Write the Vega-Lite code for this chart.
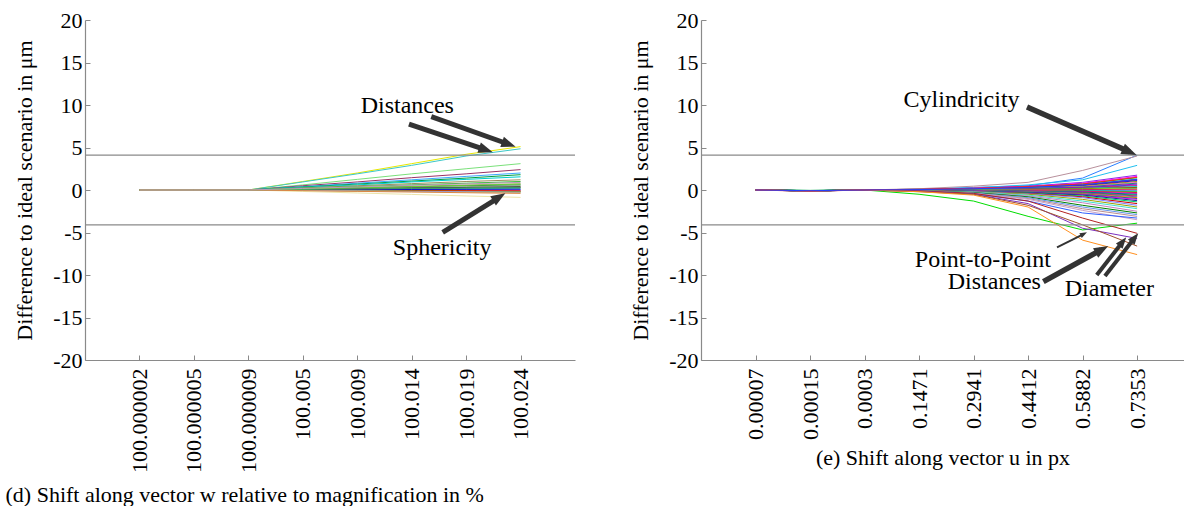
{
"$schema": "https://vega.github.io/schema/vega-lite/v6.json",
"background": "white",
"padding": {"left": 5, "top": 9, "right": 0, "bottom": 0},
"bounds": "flush",
"spacing": 126,
"config": {
  "font": "Liberation Serif, serif",
  "view": {"stroke": null},
  "style": {"guide-label": {"font": "Liberation Serif, serif"}, "guide-title": {"font": "Liberation Serif, serif"}},
  "axis": {"domainColor": "#8a8a8a", "tickColor": "#8a8a8a", "tickSize": -5, "labelFontSize": 22, "titleFontSize": 22, "labelColor": "#000000", "titleColor": "#000000", "titleFontWeight": "normal", "grid": false, "labelFont": "Liberation Serif, serif", "titleFont": "Liberation Serif, serif", "domainWidth": 1.2},
  "axisY": {"labelPadding": 8, "titlePadding": 16},
  "axisX": {"labelPadding": 13, "titlePadding": 8}
},
"resolve": {"scale": {"color": "independent", "x": "independent", "y": "independent"}},
"datasets": {
"d": [
{"s":"a01","i":1,"v":0},{"s":"a01","i":2,"v":0},{"s":"a01","i":3,"v":0},{"s":"a01","i":4,"v":1.0},{"s":"a01","i":5,"v":2.0},{"s":"a01","i":6,"v":3.1},{"s":"a01","i":7,"v":4.2},{"s":"a01","i":8,"v":5.1},
{"s":"a02","i":1,"v":0},{"s":"a02","i":2,"v":0},{"s":"a02","i":3,"v":0},{"s":"a02","i":4,"v":0.95},{"s":"a02","i":5,"v":1.9},{"s":"a02","i":6,"v":2.9},{"s":"a02","i":7,"v":4.0},{"s":"a02","i":8,"v":4.85},
{"s":"a03","i":1,"v":0},{"s":"a03","i":2,"v":0},{"s":"a03","i":3,"v":0},{"s":"a03","i":4,"v":0.6},{"s":"a03","i":5,"v":1.25},{"s":"a03","i":6,"v":1.9},{"s":"a03","i":7,"v":2.5},{"s":"a03","i":8,"v":3.1},
{"s":"a04","i":1,"v":0},{"s":"a04","i":2,"v":0},{"s":"a04","i":3,"v":0},{"s":"a04","i":4,"v":0.5},{"s":"a04","i":5,"v":0.95},{"s":"a04","i":6,"v":1.45},{"s":"a04","i":7,"v":1.9},{"s":"a04","i":8,"v":2.4},
{"s":"a05","i":1,"v":0},{"s":"a05","i":2,"v":0},{"s":"a05","i":3,"v":0},{"s":"a05","i":4,"v":0.4},{"s":"a05","i":5,"v":0.8},{"s":"a05","i":6,"v":1.2},{"s":"a05","i":7,"v":1.6},{"s":"a05","i":8,"v":2.0},
{"s":"a06","i":1,"v":0},{"s":"a06","i":2,"v":0},{"s":"a06","i":3,"v":0},{"s":"a06","i":4,"v":0.35},{"s":"a06","i":5,"v":0.7},{"s":"a06","i":6,"v":1.05},{"s":"a06","i":7,"v":1.4},{"s":"a06","i":8,"v":1.8},
{"s":"a07","i":1,"v":0},{"s":"a07","i":2,"v":0},{"s":"a07","i":3,"v":0},{"s":"a07","i":4,"v":0.3},{"s":"a07","i":5,"v":0.6},{"s":"a07","i":6,"v":0.95},{"s":"a07","i":7,"v":1.25},{"s":"a07","i":8,"v":1.55},
{"s":"a08","i":1,"v":0},{"s":"a08","i":2,"v":0},{"s":"a08","i":3,"v":0},{"s":"a08","i":4,"v":0.25},{"s":"a08","i":5,"v":0.5},{"s":"a08","i":6,"v":0.75},{"s":"a08","i":7,"v":1.0},{"s":"a08","i":8,"v":1.2},
{"s":"a09","i":1,"v":0},{"s":"a09","i":2,"v":0},{"s":"a09","i":3,"v":0},{"s":"a09","i":4,"v":0.2},{"s":"a09","i":5,"v":0.4},{"s":"a09","i":6,"v":0.6},{"s":"a09","i":7,"v":0.8},{"s":"a09","i":8,"v":1.0},
{"s":"a10","i":1,"v":0},{"s":"a10","i":2,"v":0},{"s":"a10","i":3,"v":0},{"s":"a10","i":4,"v":0.15},{"s":"a10","i":5,"v":0.3},{"s":"a10","i":6,"v":0.45},{"s":"a10","i":7,"v":0.6},{"s":"a10","i":8,"v":0.75},
{"s":"a11","i":1,"v":0},{"s":"a11","i":2,"v":0},{"s":"a11","i":3,"v":0},{"s":"a11","i":4,"v":0.12},{"s":"a11","i":5,"v":0.25},{"s":"a11","i":6,"v":0.37},{"s":"a11","i":7,"v":0.5},{"s":"a11","i":8,"v":0.6},
{"s":"a12","i":1,"v":0},{"s":"a12","i":2,"v":0},{"s":"a12","i":3,"v":0},{"s":"a12","i":4,"v":0.1},{"s":"a12","i":5,"v":0.2},{"s":"a12","i":6,"v":0.3},{"s":"a12","i":7,"v":0.4},{"s":"a12","i":8,"v":0.5},
{"s":"a13","i":1,"v":0},{"s":"a13","i":2,"v":0},{"s":"a13","i":3,"v":0},{"s":"a13","i":4,"v":0.08},{"s":"a13","i":5,"v":0.15},{"s":"a13","i":6,"v":0.25},{"s":"a13","i":7,"v":0.3},{"s":"a13","i":8,"v":0.4},
{"s":"a14","i":1,"v":0},{"s":"a14","i":2,"v":0},{"s":"a14","i":3,"v":0},{"s":"a14","i":4,"v":0.05},{"s":"a14","i":5,"v":0.1},{"s":"a14","i":6,"v":0.15},{"s":"a14","i":7,"v":0.2},{"s":"a14","i":8,"v":0.3},
{"s":"a15","i":1,"v":0},{"s":"a15","i":2,"v":0},{"s":"a15","i":3,"v":0},{"s":"a15","i":4,"v":0.04},{"s":"a15","i":5,"v":0.08},{"s":"a15","i":6,"v":0.12},{"s":"a15","i":7,"v":0.16},{"s":"a15","i":8,"v":0.2},
{"s":"a16","i":1,"v":0},{"s":"a16","i":2,"v":0},{"s":"a16","i":3,"v":0},{"s":"a16","i":4,"v":0.02},{"s":"a16","i":5,"v":0.04},{"s":"a16","i":6,"v":0.06},{"s":"a16","i":7,"v":0.08},{"s":"a16","i":8,"v":0.1},
{"s":"a17","i":1,"v":0},{"s":"a17","i":2,"v":0},{"s":"a17","i":3,"v":0},{"s":"a17","i":4,"v":0},{"s":"a17","i":5,"v":0},{"s":"a17","i":6,"v":0},{"s":"a17","i":7,"v":0},{"s":"a17","i":8,"v":0},
{"s":"a18","i":1,"v":0},{"s":"a18","i":2,"v":0},{"s":"a18","i":3,"v":0},{"s":"a18","i":4,"v":-0.02},{"s":"a18","i":5,"v":-0.04},{"s":"a18","i":6,"v":-0.06},{"s":"a18","i":7,"v":-0.08},{"s":"a18","i":8,"v":-0.1},
{"s":"a19","i":1,"v":0},{"s":"a19","i":2,"v":0},{"s":"a19","i":3,"v":0},{"s":"a19","i":4,"v":-0.03},{"s":"a19","i":5,"v":-0.06},{"s":"a19","i":6,"v":-0.09},{"s":"a19","i":7,"v":-0.12},{"s":"a19","i":8,"v":-0.15},
{"s":"a20","i":1,"v":0},{"s":"a20","i":2,"v":0},{"s":"a20","i":3,"v":0},{"s":"a20","i":4,"v":-0.04},{"s":"a20","i":5,"v":-0.08},{"s":"a20","i":6,"v":-0.12},{"s":"a20","i":7,"v":-0.16},{"s":"a20","i":8,"v":-0.2},
{"s":"a21","i":1,"v":0},{"s":"a21","i":2,"v":0},{"s":"a21","i":3,"v":0},{"s":"a21","i":4,"v":-0.06},{"s":"a21","i":5,"v":-0.12},{"s":"a21","i":6,"v":-0.18},{"s":"a21","i":7,"v":-0.24},{"s":"a21","i":8,"v":-0.3},
{"s":"a22","i":1,"v":0},{"s":"a22","i":2,"v":0},{"s":"a22","i":3,"v":0},{"s":"a22","i":4,"v":-0.17},{"s":"a22","i":5,"v":-0.35},{"s":"a22","i":6,"v":-0.52},{"s":"a22","i":7,"v":-0.7},{"s":"a22","i":8,"v":-0.87},
{"s":"a23","i":1,"v":0},{"s":"a23","i":2,"v":0},{"s":"a23","i":3,"v":0},{"s":"a23","i":4,"v":-0.05},{"s":"a23","i":5,"v":-0.1},{"s":"a23","i":6,"v":-0.15},{"s":"a23","i":7,"v":-0.2},{"s":"a23","i":8,"v":-0.25},
{"s":"a24","i":1,"v":0},{"s":"a24","i":2,"v":0},{"s":"a24","i":3,"v":0},{"s":"a24","i":4,"v":0.06},{"s":"a24","i":5,"v":0.12},{"s":"a24","i":6,"v":0.18},{"s":"a24","i":7,"v":0.24},{"s":"a24","i":8,"v":0.3},
{"s":"a25","i":1,"v":0},{"s":"a25","i":2,"v":0},{"s":"a25","i":3,"v":0},{"s":"a25","i":4,"v":0.13},{"s":"a25","i":5,"v":0.27},{"s":"a25","i":6,"v":0.4},{"s":"a25","i":7,"v":0.55},{"s":"a25","i":8,"v":0.7},
{"s":"a26","i":1,"v":0},{"s":"a26","i":2,"v":0},{"s":"a26","i":3,"v":0},{"s":"a26","i":4,"v":-0.08},{"s":"a26","i":5,"v":-0.16},{"s":"a26","i":6,"v":-0.24},{"s":"a26","i":7,"v":-0.32},{"s":"a26","i":8,"v":-0.4},
{"s":"a27","i":1,"v":0},{"s":"a27","i":2,"v":0},{"s":"a27","i":3,"v":0},{"s":"a27","i":4,"v":0.18},{"s":"a27","i":5,"v":0.36},{"s":"a27","i":6,"v":0.55},{"s":"a27","i":7,"v":0.72},{"s":"a27","i":8,"v":0.9}
],
"e": [
{"s":"b01","i":1,"v":0},{"s":"b01","i":2,"v":-0.08},{"s":"b01","i":3,"v":0},{"s":"b01","i":4,"v":0.1},{"s":"b01","i":5,"v":0.3},{"s":"b01","i":6,"v":0.5},{"s":"b01","i":7,"v":1.4},{"s":"b01","i":8,"v":4.1},
{"s":"b02","i":1,"v":0},{"s":"b02","i":2,"v":-0.1},{"s":"b02","i":3,"v":0},{"s":"b02","i":4,"v":0.15},{"s":"b02","i":5,"v":0.45},{"s":"b02","i":6,"v":0.9},{"s":"b02","i":7,"v":2.3},{"s":"b02","i":8,"v":4.0},
{"s":"b03","i":1,"v":0},{"s":"b03","i":2,"v":-0.06},{"s":"b03","i":3,"v":0},{"s":"b03","i":4,"v":0.1},{"s":"b03","i":5,"v":0.25},{"s":"b03","i":6,"v":0.6},{"s":"b03","i":7,"v":1.2},{"s":"b03","i":8,"v":2.9},
{"s":"b04","i":1,"v":0},{"s":"b04","i":2,"v":-0.1},{"s":"b04","i":3,"v":0},{"s":"b04","i":4,"v":0.05},{"s":"b04","i":5,"v":0.2},{"s":"b04","i":6,"v":0.45},{"s":"b04","i":7,"v":0.9},{"s":"b04","i":8,"v":1.75},
{"s":"b05","i":1,"v":0},{"s":"b05","i":2,"v":-0.12},{"s":"b05","i":3,"v":0},{"s":"b05","i":4,"v":0.05},{"s":"b05","i":5,"v":0.2},{"s":"b05","i":6,"v":0.4},{"s":"b05","i":7,"v":0.8},{"s":"b05","i":8,"v":1.6},
{"s":"b06","i":1,"v":0},{"s":"b06","i":2,"v":-0.08},{"s":"b06","i":3,"v":0},{"s":"b06","i":4,"v":0.05},{"s":"b06","i":5,"v":0.15},{"s":"b06","i":6,"v":0.35},{"s":"b06","i":7,"v":0.7},{"s":"b06","i":8,"v":1.45},
{"s":"b07","i":1,"v":0},{"s":"b07","i":2,"v":-0.05},{"s":"b07","i":3,"v":0},{"s":"b07","i":4,"v":0},{"s":"b07","i":5,"v":0.1},{"s":"b07","i":6,"v":0.3},{"s":"b07","i":7,"v":0.6},{"s":"b07","i":8,"v":1.3},
{"s":"b08","i":1,"v":0},{"s":"b08","i":2,"v":-0.15},{"s":"b08","i":3,"v":0},{"s":"b08","i":4,"v":0.05},{"s":"b08","i":5,"v":0.1},{"s":"b08","i":6,"v":0.25},{"s":"b08","i":7,"v":0.55},{"s":"b08","i":8,"v":1.2},
{"s":"b09","i":1,"v":0},{"s":"b09","i":2,"v":-0.08},{"s":"b09","i":3,"v":0},{"s":"b09","i":4,"v":0},{"s":"b09","i":5,"v":0.1},{"s":"b09","i":6,"v":0.25},{"s":"b09","i":7,"v":0.5},{"s":"b09","i":8,"v":1.1},
{"s":"b10","i":1,"v":0},{"s":"b10","i":2,"v":-0.1},{"s":"b10","i":3,"v":0},{"s":"b10","i":4,"v":0.05},{"s":"b10","i":5,"v":0.1},{"s":"b10","i":6,"v":0.2},{"s":"b10","i":7,"v":0.45},{"s":"b10","i":8,"v":1.0},
{"s":"b11","i":1,"v":0},{"s":"b11","i":2,"v":-0.06},{"s":"b11","i":3,"v":0},{"s":"b11","i":4,"v":0},{"s":"b11","i":5,"v":0.1},{"s":"b11","i":6,"v":0.2},{"s":"b11","i":7,"v":0.4},{"s":"b11","i":8,"v":0.9},
{"s":"b12","i":1,"v":0},{"s":"b12","i":2,"v":-0.1},{"s":"b12","i":3,"v":0},{"s":"b12","i":4,"v":0},{"s":"b12","i":5,"v":0.05},{"s":"b12","i":6,"v":0.2},{"s":"b12","i":7,"v":0.35},{"s":"b12","i":8,"v":0.8},
{"s":"b13","i":1,"v":0},{"s":"b13","i":2,"v":-0.12},{"s":"b13","i":3,"v":0},{"s":"b13","i":4,"v":0},{"s":"b13","i":5,"v":0.05},{"s":"b13","i":6,"v":0.15},{"s":"b13","i":7,"v":0.3},{"s":"b13","i":8,"v":0.7},
{"s":"b14","i":1,"v":0},{"s":"b14","i":2,"v":-0.08},{"s":"b14","i":3,"v":0},{"s":"b14","i":4,"v":0},{"s":"b14","i":5,"v":0.05},{"s":"b14","i":6,"v":0.15},{"s":"b14","i":7,"v":0.3},{"s":"b14","i":8,"v":0.6},
{"s":"b15","i":1,"v":0},{"s":"b15","i":2,"v":-0.1},{"s":"b15","i":3,"v":0},{"s":"b15","i":4,"v":0},{"s":"b15","i":5,"v":0.05},{"s":"b15","i":6,"v":0.1},{"s":"b15","i":7,"v":0.25},{"s":"b15","i":8,"v":0.5},
{"s":"b16","i":1,"v":0},{"s":"b16","i":2,"v":-0.07},{"s":"b16","i":3,"v":0},{"s":"b16","i":4,"v":0},{"s":"b16","i":5,"v":0.05},{"s":"b16","i":6,"v":0.1},{"s":"b16","i":7,"v":0.2},{"s":"b16","i":8,"v":0.4},
{"s":"b17","i":1,"v":0},{"s":"b17","i":2,"v":-0.1},{"s":"b17","i":3,"v":0},{"s":"b17","i":4,"v":0},{"s":"b17","i":5,"v":0},{"s":"b17","i":6,"v":0.1},{"s":"b17","i":7,"v":0.15},{"s":"b17","i":8,"v":0.3},
{"s":"b18","i":1,"v":0},{"s":"b18","i":2,"v":-0.12},{"s":"b18","i":3,"v":0},{"s":"b18","i":4,"v":0},{"s":"b18","i":5,"v":0},{"s":"b18","i":6,"v":0.05},{"s":"b18","i":7,"v":0.1},{"s":"b18","i":8,"v":0.2},
{"s":"b19","i":1,"v":0},{"s":"b19","i":2,"v":-0.08},{"s":"b19","i":3,"v":0},{"s":"b19","i":4,"v":0},{"s":"b19","i":5,"v":0},{"s":"b19","i":6,"v":0},{"s":"b19","i":7,"v":0.05},{"s":"b19","i":8,"v":0.1},
{"s":"b20","i":1,"v":0},{"s":"b20","i":2,"v":-0.1},{"s":"b20","i":3,"v":0},{"s":"b20","i":4,"v":0},{"s":"b20","i":5,"v":0},{"s":"b20","i":6,"v":0},{"s":"b20","i":7,"v":0},{"s":"b20","i":8,"v":0},
{"s":"b21","i":1,"v":0},{"s":"b21","i":2,"v":-0.09},{"s":"b21","i":3,"v":0},{"s":"b21","i":4,"v":0},{"s":"b21","i":5,"v":0},{"s":"b21","i":6,"v":-0.05},{"s":"b21","i":7,"v":-0.05},{"s":"b21","i":8,"v":-0.1},
{"s":"b22","i":1,"v":0},{"s":"b22","i":2,"v":-0.11},{"s":"b22","i":3,"v":0},{"s":"b22","i":4,"v":0},{"s":"b22","i":5,"v":0},{"s":"b22","i":6,"v":-0.05},{"s":"b22","i":7,"v":-0.1},{"s":"b22","i":8,"v":-0.2},
{"s":"b23","i":1,"v":0},{"s":"b23","i":2,"v":-0.08},{"s":"b23","i":3,"v":0},{"s":"b23","i":4,"v":0},{"s":"b23","i":5,"v":-0.05},{"s":"b23","i":6,"v":-0.1},{"s":"b23","i":7,"v":-0.15},{"s":"b23","i":8,"v":-0.3},
{"s":"b24","i":1,"v":0},{"s":"b24","i":2,"v":-0.1},{"s":"b24","i":3,"v":0},{"s":"b24","i":4,"v":0},{"s":"b24","i":5,"v":-0.05},{"s":"b24","i":6,"v":-0.1},{"s":"b24","i":7,"v":-0.2},{"s":"b24","i":8,"v":-0.4},
{"s":"b25","i":1,"v":0},{"s":"b25","i":2,"v":-0.12},{"s":"b25","i":3,"v":0},{"s":"b25","i":4,"v":0},{"s":"b25","i":5,"v":-0.05},{"s":"b25","i":6,"v":-0.15},{"s":"b25","i":7,"v":-0.25},{"s":"b25","i":8,"v":-0.5},
{"s":"b26","i":1,"v":0},{"s":"b26","i":2,"v":-0.07},{"s":"b26","i":3,"v":0},{"s":"b26","i":4,"v":0},{"s":"b26","i":5,"v":-0.05},{"s":"b26","i":6,"v":-0.15},{"s":"b26","i":7,"v":-0.3},{"s":"b26","i":8,"v":-0.6},
{"s":"b27","i":1,"v":0},{"s":"b27","i":2,"v":-0.1},{"s":"b27","i":3,"v":0},{"s":"b27","i":4,"v":0},{"s":"b27","i":5,"v":-0.05},{"s":"b27","i":6,"v":-0.2},{"s":"b27","i":7,"v":-0.35},{"s":"b27","i":8,"v":-0.7},
{"s":"b28","i":1,"v":0},{"s":"b28","i":2,"v":-0.09},{"s":"b28","i":3,"v":0},{"s":"b28","i":4,"v":-0.05},{"s":"b28","i":5,"v":-0.1},{"s":"b28","i":6,"v":-0.2},{"s":"b28","i":7,"v":-0.4},{"s":"b28","i":8,"v":-0.8},
{"s":"b29","i":1,"v":0},{"s":"b29","i":2,"v":-0.11},{"s":"b29","i":3,"v":0},{"s":"b29","i":4,"v":-0.05},{"s":"b29","i":5,"v":-0.1},{"s":"b29","i":6,"v":-0.25},{"s":"b29","i":7,"v":-0.45},{"s":"b29","i":8,"v":-0.9},
{"s":"b30","i":1,"v":0},{"s":"b30","i":2,"v":-0.08},{"s":"b30","i":3,"v":0},{"s":"b30","i":4,"v":-0.05},{"s":"b30","i":5,"v":-0.1},{"s":"b30","i":6,"v":-0.25},{"s":"b30","i":7,"v":-0.5},{"s":"b30","i":8,"v":-1.0},
{"s":"b31","i":1,"v":0},{"s":"b31","i":2,"v":-0.1},{"s":"b31","i":3,"v":0},{"s":"b31","i":4,"v":-0.05},{"s":"b31","i":5,"v":-0.1},{"s":"b31","i":6,"v":-0.3},{"s":"b31","i":7,"v":-0.55},{"s":"b31","i":8,"v":-1.1},
{"s":"b32","i":1,"v":0},{"s":"b32","i":2,"v":-0.12},{"s":"b32","i":3,"v":0},{"s":"b32","i":4,"v":-0.05},{"s":"b32","i":5,"v":-0.15},{"s":"b32","i":6,"v":-0.3},{"s":"b32","i":7,"v":-0.6},{"s":"b32","i":8,"v":-1.25},
{"s":"b33","i":1,"v":0},{"s":"b33","i":2,"v":-0.08},{"s":"b33","i":3,"v":0},{"s":"b33","i":4,"v":-0.05},{"s":"b33","i":5,"v":-0.15},{"s":"b33","i":6,"v":-0.35},{"s":"b33","i":7,"v":-0.7},{"s":"b33","i":8,"v":-1.4},
{"s":"b34","i":1,"v":0},{"s":"b34","i":2,"v":-0.1},{"s":"b34","i":3,"v":0},{"s":"b34","i":4,"v":-0.05},{"s":"b34","i":5,"v":-0.2},{"s":"b34","i":6,"v":-0.4},{"s":"b34","i":7,"v":-0.8},{"s":"b34","i":8,"v":-1.6},
{"s":"b35","i":1,"v":0},{"s":"b35","i":2,"v":-0.09},{"s":"b35","i":3,"v":0},{"s":"b35","i":4,"v":-0.1},{"s":"b35","i":5,"v":-0.2},{"s":"b35","i":6,"v":-0.45},{"s":"b35","i":7,"v":-0.9},{"s":"b35","i":8,"v":-1.8},
{"s":"b36","i":1,"v":0},{"s":"b36","i":2,"v":-0.11},{"s":"b36","i":3,"v":0},{"s":"b36","i":4,"v":-0.1},{"s":"b36","i":5,"v":-0.25},{"s":"b36","i":6,"v":-0.5},{"s":"b36","i":7,"v":-1.1},{"s":"b36","i":8,"v":-2.0},
{"s":"b37","i":1,"v":0},{"s":"b37","i":2,"v":-0.1},{"s":"b37","i":3,"v":0},{"s":"b37","i":4,"v":-0.1},{"s":"b37","i":5,"v":-0.25},{"s":"b37","i":6,"v":-0.6},{"s":"b37","i":7,"v":-1.3},{"s":"b37","i":8,"v":-2.2},
{"s":"b38","i":1,"v":0},{"s":"b38","i":2,"v":-0.08},{"s":"b38","i":3,"v":0},{"s":"b38","i":4,"v":-0.1},{"s":"b38","i":5,"v":-0.3},{"s":"b38","i":6,"v":-0.7},{"s":"b38","i":7,"v":-1.5},{"s":"b38","i":8,"v":-2.5},
{"s":"b39","i":1,"v":0},{"s":"b39","i":2,"v":-0.1},{"s":"b39","i":3,"v":0},{"s":"b39","i":4,"v":-0.1},{"s":"b39","i":5,"v":-0.3},{"s":"b39","i":6,"v":-0.8},{"s":"b39","i":7,"v":-1.8},{"s":"b39","i":8,"v":-2.7},
{"s":"b40","i":1,"v":0},{"s":"b40","i":2,"v":-0.12},{"s":"b40","i":3,"v":0},{"s":"b40","i":4,"v":-0.1},{"s":"b40","i":5,"v":-0.35},{"s":"b40","i":6,"v":-0.9},{"s":"b40","i":7,"v":-2.0},{"s":"b40","i":8,"v":-2.9},
{"s":"b41","i":1,"v":0},{"s":"b41","i":2,"v":-0.09},{"s":"b41","i":3,"v":0},{"s":"b41","i":4,"v":-0.1},{"s":"b41","i":5,"v":-0.4},{"s":"b41","i":6,"v":-1.0},{"s":"b41","i":7,"v":-2.2},{"s":"b41","i":8,"v":-3.1},
{"s":"b42","i":1,"v":0},{"s":"b42","i":2,"v":-0.1},{"s":"b42","i":3,"v":0},{"s":"b42","i":4,"v":-0.15},{"s":"b42","i":5,"v":-0.4},{"s":"b42","i":6,"v":-1.1},{"s":"b42","i":7,"v":-2.4},{"s":"b42","i":8,"v":-3.5},
{"s":"b43","i":1,"v":0},{"s":"b43","i":2,"v":-0.1},{"s":"b43","i":3,"v":0},{"s":"b43","i":4,"v":-0.1},{"s":"b43","i":5,"v":-0.45},{"s":"b43","i":6,"v":-1.3},{"s":"b43","i":7,"v":-2.7},{"s":"b43","i":8,"v":-3.3},
{"s":"b44","i":1,"v":0},{"s":"b44","i":2,"v":-0.05},{"s":"b44","i":3,"v":0},{"s":"b44","i":4,"v":-0.5},{"s":"b44","i":5,"v":-1.3},{"s":"b44","i":6,"v":-3.1},{"s":"b44","i":7,"v":-4.7},{"s":"b44","i":8,"v":-3.9},
{"s":"b45","i":1,"v":0},{"s":"b45","i":2,"v":-0.1},{"s":"b45","i":3,"v":0},{"s":"b45","i":4,"v":-0.1},{"s":"b45","i":5,"v":-0.4},{"s":"b45","i":6,"v":-1.3},{"s":"b45","i":7,"v":-3.3},{"s":"b45","i":8,"v":-5.1},
{"s":"b46","i":1,"v":0},{"s":"b46","i":2,"v":-0.1},{"s":"b46","i":3,"v":0},{"s":"b46","i":4,"v":-0.15},{"s":"b46","i":5,"v":-0.5},{"s":"b46","i":6,"v":-1.6},{"s":"b46","i":7,"v":-4.5},{"s":"b46","i":8,"v":-5.7},
{"s":"b47","i":1,"v":0},{"s":"b47","i":2,"v":-0.08},{"s":"b47","i":3,"v":0},{"s":"b47","i":4,"v":-0.2},{"s":"b47","i":5,"v":-0.5},{"s":"b47","i":6,"v":-1.8},{"s":"b47","i":7,"v":-4.1},{"s":"b47","i":8,"v":-6.6},
{"s":"b48","i":1,"v":0},{"s":"b48","i":2,"v":-0.1},{"s":"b48","i":3,"v":0},{"s":"b48","i":4,"v":-0.2},{"s":"b48","i":5,"v":-0.6},{"s":"b48","i":6,"v":-2.0},{"s":"b48","i":7,"v":-5.9},{"s":"b48","i":8,"v":-7.6},
{"s":"b49","i":1,"v":0},{"s":"b49","i":2,"v":-0.1},{"s":"b49","i":3,"v":0},{"s":"b49","i":4,"v":0.1},{"s":"b49","i":5,"v":0.2},{"s":"b49","i":6,"v":0.4},{"s":"b49","i":7,"v":0.7},{"s":"b49","i":8,"v":1.5},
{"s":"b50","i":1,"v":0},{"s":"b50","i":2,"v":-0.08},{"s":"b50","i":3,"v":0},{"s":"b50","i":4,"v":0.05},{"s":"b50","i":5,"v":0.15},{"s":"b50","i":6,"v":0.3},{"s":"b50","i":7,"v":0.6},{"s":"b50","i":8,"v":1.25}
]
},
"hconcat": [
{
  "width": 490, "height": 340,
  "layer": [
    {"data": {"name": "d"}, "mark": {"type": "line", "strokeWidth": 1},
     "encoding": {
       "x": {"field": "i", "type": "quantitative", "scale": {"domain": [0, 9]},
             "axis": {"values": [1,2,3,4,5,6,7,8], "labelAngle": -90, "labelFont": "Liberation Serif, serif", "titleFont": "Liberation Serif, serif", "titlePadding": 12,
                      "labelExpr": "['100.000002','100.000005','100.000009','100.005','100.009','100.014','100.019','100.024'][datum.value-1]",
                      "title": "(d) Shift along vector w relative to magnification in %", "titleX": -80, "titleAlign": "left", "titleAnchor": "start"}},
       "y": {"field": "v", "type": "quantitative", "scale": {"domain": [-20, 20]},
             "axis": {"values": [-20,-15,-10,-5,0,5,10,15,20], "labelFont": "Liberation Serif, serif", "titleFont": "Liberation Serif, serif", "labelExpr": "'' + datum.value", "title": "Difference to ideal scenario in μm"}},
       "color": {"field": "s", "type": "nominal", "legend": null,
                 "scale": {"range": ["#e8e800","#3cc8c8","#7ae07a","#993366","#3aa8ff","#00a040","#00cccc","#9c8a5c","#2dbb2d","#c8b890","#1a7a3a","#8fb08f","#404040","#b06a30","#3ccc99","#000090","#2020ff","#ff0000","#cc3300","#6a9a00","#c8c860","#ece4a8","#9a9acc","#339966","#66cc33","#dd8844","#bb99bb"]}}
     }},
    {"data": {"values": [{"v": 4.1}, {"v": -4.1}]}, "mark": {"type": "rule", "color": "#8a8a8a", "strokeWidth": 1.2},
     "encoding": {"y": {"field": "v", "type": "quantitative", "scale": {"domain": [-20, 20]}}}},
    {"data": {"values": [{"i": 5.95, "v": 7.76, "i2": 7.35, "v2": 4.74}, {"i": 6.36, "v": 8.62, "i2": 7.77, "v2": 5.41}, {"i": 6.57, "v": -4.98, "i2": 7.60, "v2": -0.89}]},
     "mark": {"type": "rule", "color": "#333333", "strokeWidth": 5},
     "encoding": {"x": {"field": "i", "type": "quantitative", "scale": {"domain": [0, 9]}}, "y": {"field": "v", "type": "quantitative", "scale": {"domain": [-20, 20]}}, "x2": {"field": "i2"}, "y2": {"field": "v2"}}},
    {"data": {"values": [{"i": 7.49, "v": 4.44}]}, "mark": {"type": "point", "shape": "M0,0L0.6,1.6L-0.6,1.6Z", "filled": true, "opacity": 1, "color": "#333333", "size": 324, "angle": 108.6},
     "encoding": {"x": {"field": "i", "type": "quantitative", "scale": {"domain": [0, 9]}}, "y": {"field": "v", "type": "quantitative", "scale": {"domain": [-20, 20]}}}},
    {"data": {"values": [{"i": 7.91, "v": 5.09}]}, "mark": {"type": "point", "shape": "M0,0L0.6,1.6L-0.6,1.6Z", "filled": true, "opacity": 1, "color": "#333333", "size": 324, "angle": 109.6},
     "encoding": {"x": {"field": "i", "type": "quantitative", "scale": {"domain": [0, 9]}}, "y": {"field": "v", "type": "quantitative", "scale": {"domain": [-20, 20]}}}},
    {"data": {"values": [{"i": 7.72, "v": -0.39}]}, "mark": {"type": "point", "shape": "M0,0L0.6,1.6L-0.6,1.6Z", "filled": true, "opacity": 1, "color": "#333333", "size": 324, "angle": 58.1},
     "encoding": {"x": {"field": "i", "type": "quantitative", "scale": {"domain": [0, 9]}}, "y": {"field": "v", "type": "quantitative", "scale": {"domain": [-20, 20]}}}},
    {"data": {"values": [{"i": 5.92, "v": 9.88, "t": "Distances"}, {"i": 6.56, "v": -6.86, "t": "Sphericity"}]},
     "mark": {"type": "text", "font": "Liberation Serif", "fontSize": 24, "color": "#000000", "baseline": "middle", "align": "center"},
     "encoding": {"x": {"field": "i", "type": "quantitative", "scale": {"domain": [0, 9]}}, "y": {"field": "v", "type": "quantitative", "scale": {"domain": [-20, 20]}}, "text": {"field": "t"}}}
  ]
},
{
  "width": 483, "height": 340,
  "layer": [
    {"data": {"name": "e"}, "mark": {"type": "line", "strokeWidth": 1},
     "encoding": {
       "x": {"field": "i", "type": "quantitative", "scale": {"domain": [0, 8.86]},
             "axis": {"values": [1,2,3,4,5,6,7,8], "labelAngle": -90, "labelFont": "Liberation Serif, serif", "titleFont": "Liberation Serif, serif",
                      "labelExpr": "['0.00007','0.00015','0.0003','0.1471','0.2941','0.4412','0.5882','0.7353'][datum.value-1]",
                      "title": "(e) Shift along vector u in px"}},
       "y": {"field": "v", "type": "quantitative", "scale": {"domain": [-20, 20]},
             "axis": {"values": [-20,-15,-10,-5,0,5,10,15,20], "labelFont": "Liberation Serif, serif", "titleFont": "Liberation Serif, serif", "labelExpr": "'' + datum.value", "title": "Difference to ideal scenario in μm"}},
       "color": {"field": "s", "type": "nominal", "legend": null,
                 "scale": {"range": ["#2a7fff","#b8909c","#20c0f0","#8a2be2","#ff00ff","#00c000","#20b2aa","#ff0000","#0000ff","#9a9a00","#ff69b4","#00a86b","#c000c0","#4040ff","#e00050","#00d0d0","#8b4513","#7cfc00","#9400d3","#ff4500","#1e90ff","#32cd32","#dc143c","#ff00aa","#0050c0","#00b050","#b03060","#6a5acd","#ff8000","#008080","#e000e0","#2020a0","#00cc66","#cc0000","#8080ff","#a0a000","#40e0d0","#c080c0","#008000","#6495ed","#bc8f8f","#c8a0c8","#3060ff","#00dd00","#b22222","#7b2fbe","#a0522d","#ff9020","#ff2020","#2040ff"]}}
     }},
    {"data": {"values": [{"v": 4.1}, {"v": -4.1}]}, "mark": {"type": "rule", "color": "#8a8a8a", "strokeWidth": 1.2},
     "encoding": {"y": {"field": "v", "type": "quantitative", "scale": {"domain": [-20, 20]}}}},
    {"data": {"values": [{"i": 5.98, "v": 9.76, "i2": 7.86, "v2": 4.5}, {"i": 6.28, "v": -10.79, "i2": 7.34, "v2": -7.04}]},
     "mark": {"type": "rule", "color": "#333333", "strokeWidth": 5.5},
     "encoding": {"x": {"field": "i", "type": "quantitative", "scale": {"domain": [0, 8.86]}}, "y": {"field": "v", "type": "quantitative", "scale": {"domain": [-20, 20]}}, "x2": {"field": "i2"}, "y2": {"field": "v2"}}},
    {"data": {"values": [{"i": 7.26, "v": -10.0, "i2": 7.71, "v2": -6.3}, {"i": 7.41, "v": -10.12, "i2": 7.93, "v2": -5.83}]},
     "mark": {"type": "rule", "color": "#333333", "strokeWidth": 4},
     "encoding": {"x": {"field": "i", "type": "quantitative", "scale": {"domain": [0, 8.86]}}, "y": {"field": "v", "type": "quantitative", "scale": {"domain": [-20, 20]}}, "x2": {"field": "i2"}, "y2": {"field": "v2"}}},
    {"data": {"values": [{"i": 6.53, "v": -6.74, "i2": 7.0, "v2": -5.24}]},
     "mark": {"type": "rule", "color": "#333333", "strokeWidth": 2},
     "encoding": {"x": {"field": "i", "type": "quantitative", "scale": {"domain": [0, 8.86]}}, "y": {"field": "v", "type": "quantitative", "scale": {"domain": [-20, 20]}}, "x2": {"field": "i2"}, "y2": {"field": "v2"}}},
    {"data": {"values": [{"i": 7.99, "v": 4.12}]}, "mark": {"type": "point", "shape": "M0,0L0.6,1.6L-0.6,1.6Z", "filled": true, "opacity": 1, "color": "#333333", "size": 360, "angle": 113.6},
     "encoding": {"x": {"field": "i", "type": "quantitative", "scale": {"domain": [0, 8.86]}}, "y": {"field": "v", "type": "quantitative", "scale": {"domain": [-20, 20]}}}},
    {"data": {"values": [{"i": 7.47, "v": -6.59}]}, "mark": {"type": "point", "shape": "M0,0L0.6,1.6L-0.6,1.6Z", "filled": true, "opacity": 1, "color": "#333333", "size": 324, "angle": 61.2},
     "encoding": {"x": {"field": "i", "type": "quantitative", "scale": {"domain": [0, 8.86]}}, "y": {"field": "v", "type": "quantitative", "scale": {"domain": [-20, 20]}}}},
    {"data": {"values": [{"i": 7.8, "v": -5.56}, {"i": 8.02, "v": -5.09}]}, "mark": {"type": "point", "shape": "M0,0L0.6,1.6L-0.6,1.6Z", "filled": true, "opacity": 1, "color": "#333333", "size": 200, "angle": 37.9},
     "encoding": {"x": {"field": "i", "type": "quantitative", "scale": {"domain": [0, 8.86]}}, "y": {"field": "v", "type": "quantitative", "scale": {"domain": [-20, 20]}}}},
    {"data": {"values": [{"i": 7.08, "v": -4.98}]}, "mark": {"type": "point", "shape": "M0,0L0.6,1.6L-0.6,1.6Z", "filled": true, "opacity": 1, "color": "#333333", "size": 80, "angle": 63.4},
     "encoding": {"x": {"field": "i", "type": "quantitative", "scale": {"domain": [0, 8.86]}}, "y": {"field": "v", "type": "quantitative", "scale": {"domain": [-20, 20]}}}},
    {"data": {"values": [{"i": 4.78, "v": 10.59, "t": "Cylindricity"}, {"i": 5.17, "v": -8.2, "t": "Point-to-Point"}, {"i": 5.38, "v": -10.85, "t": "Distances"}, {"i": 7.49, "v": -11.65, "t": "Diameter"}]},
     "mark": {"type": "text", "font": "Liberation Serif", "fontSize": 24, "color": "#000000", "baseline": "middle", "align": "center"},
     "encoding": {"x": {"field": "i", "type": "quantitative", "scale": {"domain": [0, 8.86]}}, "y": {"field": "v", "type": "quantitative", "scale": {"domain": [-20, 20]}}, "text": {"field": "t"}}}
  ]
}
]
}
